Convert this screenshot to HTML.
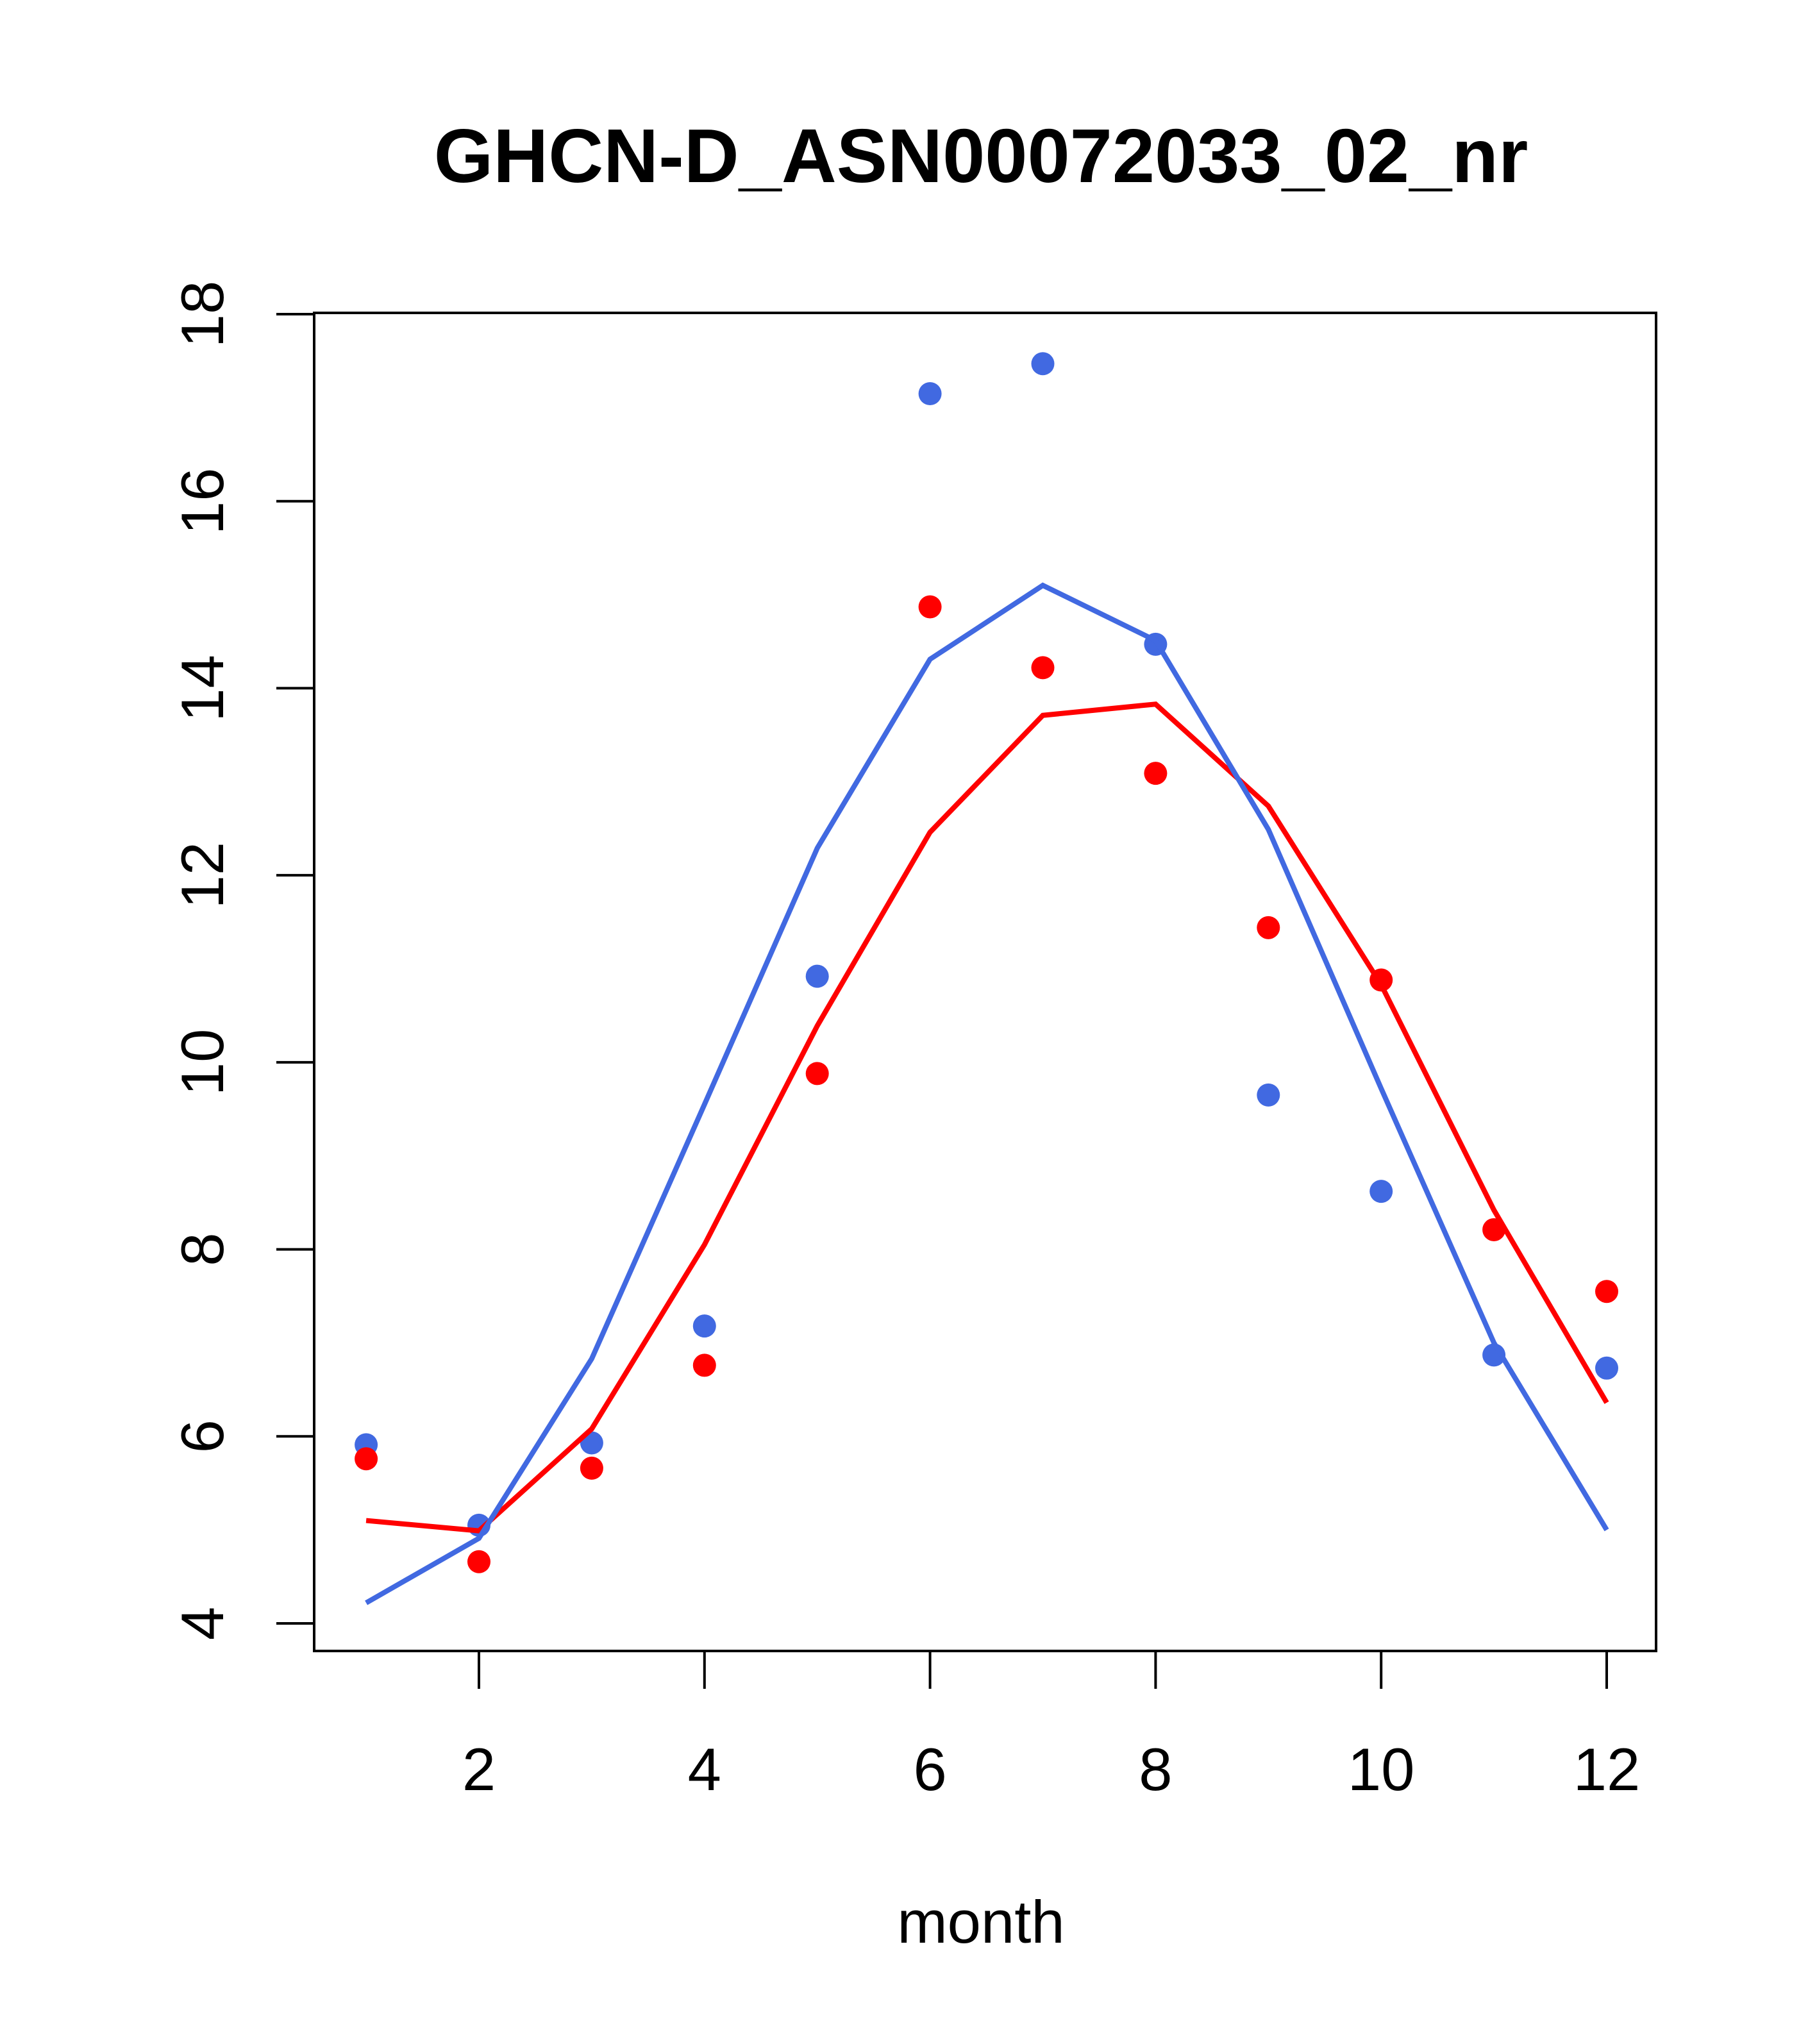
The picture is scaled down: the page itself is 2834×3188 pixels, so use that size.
<!DOCTYPE html>
<html><head><meta charset="utf-8"><style>
html,body{margin:0;padding:0;background:#fff}
svg{display:block}
text{font-family:"Liberation Sans",Arial,sans-serif;fill:#000}
</style></head><body>
<svg id="chart" width="2834" height="3188" viewBox="0 0 2834 3188" xmlns="http://www.w3.org/2000/svg">
<rect width="2834" height="3188" fill="#fff"/>
<text x="1530" y="284" font-size="119" font-weight="bold" text-anchor="middle">GHCN-D_ASN00072033_02_nr</text>
<rect x="490" y="488" width="2093" height="2087" fill="none" stroke="#000" stroke-width="4"/>
<g id="xaxis"></g>
<g id="yaxis"></g>
<text x="1530" y="3030" font-size="94" text-anchor="middle">month</text>
<g id="series"></g>
</svg>
<script>
const months=[1,2,3,4,5,6,7,8,9,10,11,12];
const xTicks=[2,4,6,8,10,12];
const yTicks=[4,6,8,10,12,14,16,18];
const bluePoints=[5.91,5.05,5.93,7.18,10.92,17.15,17.47,14.47,9.65,8.62,6.87,6.73];
const redPoints=[5.76,4.66,5.66,6.76,9.88,14.87,14.22,13.09,11.44,10.88,8.21,7.55];
const blueLine=[4.22,4.91,6.83,9.55,12.29,14.31,15.10,14.51,12.49,9.72,7.0,5.0];
const redLine=[5.10,4.99,6.08,8.05,10.39,12.46,13.71,13.83,12.74,10.83,8.42,6.36];

const NS="http://www.w3.org/2000/svg";
function X(v){return 747+(v-2)*(2506-747)/10;}
function Y(v){return 2532-(v-4)*(2532-490)/14;}
function mk(tag,attrs,parent){const e=document.createElementNS(NS,tag);for(const k in attrs)e.setAttribute(k,attrs[k]);parent.appendChild(e);return e;}
const xa=document.getElementById('xaxis'),ya=document.getElementById('yaxis'),sg=document.getElementById('series');
for(const t of xTicks){
  const l=mk('line',{x1:X(t),x2:X(t),y1:2575,y2:2634,stroke:'#000','stroke-width':4},xa);
  
  
  const tx=mk('text',{x:X(t),y:2792,'font-size':94,'text-anchor':'middle'},xa);
  tx.textContent=t;
  
  
}
for(const t of yTicks){
  const l=mk('line',{x1:431,x2:490,y1:Y(t),y2:Y(t),stroke:'#000','stroke-width':4},ya);
  
  
  const tx=mk('text',{x:0,y:0,'font-size':94,'text-anchor':'middle',transform:`translate(348,${Y(t)}) rotate(-90)`},ya);
  tx.textContent=t;
  
  
}
function line(vals,color,name){
  const p=mk('polyline',{points:months.map((m,i)=>X(m)+','+Y(vals[i])).join(' '),fill:'none',stroke:color,'stroke-width':8},sg);
  
  
}
function pts(vals,color,name){
  months.forEach((m,i)=>{
    const c=mk('circle',{cx:X(m),cy:Y(vals[i]),r:18,fill:color},sg);
    
    
  });
}
pts(bluePoints,'#4169E1','blue-point');
pts(redPoints,'#FF0000','red-point');
line(redLine,'#FF0000','red-line');
line(blueLine,'#4169E1','blue-line');
</script>
</body></html>
